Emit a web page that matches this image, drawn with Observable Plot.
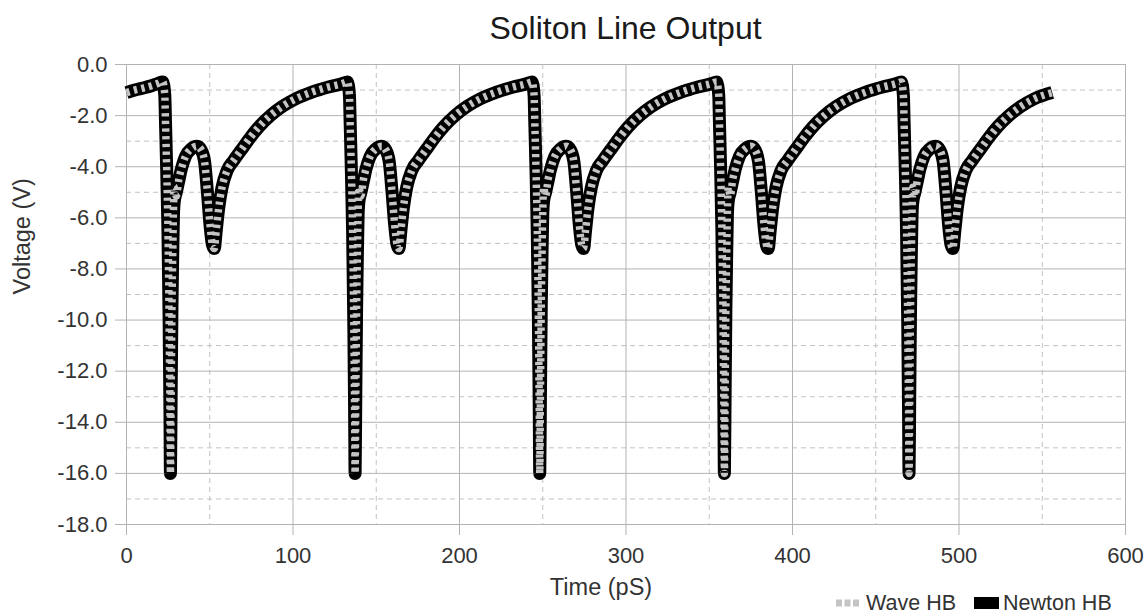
<!DOCTYPE html>
<html>
<head>
<meta charset="utf-8">
<script src="https://cdn.jsdelivr.net/npm/d3@7"></script>
<script src="https://cdn.jsdelivr.net/npm/@observablehq/plot@0.6"></script>
<style>
  html, body { margin: 0; padding: 0; background: #fff; }
  #chart { position: relative; width: 1148px; height: 613px; font-family: "Liberation Sans", Arial, sans-serif; color: #333; }
  #title { position: absolute; left: 126px; top: 12px; width: 999px; text-align: center; font-size: 32px; line-height: 32px; color: #1a1a1a; }
  #legend { position: absolute; left: 836px; top: 593px; height: 20px; display: flex; align-items: center; font-size: 21.5px; line-height: 20px; color: #333; }
  #legend .item { display: flex; align-items: center; }
  #legend svg { display: block; }
</style>
</head>
<body>
<div id="chart">
  <div id="title">Soliton Line Output</div>
  <div id="legend">
    <div class="item"><svg width="25" height="12"><line x1="0" y1="6" x2="25" y2="6" stroke="#c4c4c4" stroke-width="7" stroke-dasharray="6,2.5"></line></svg><span style="margin-left:5px">Wave HB</span></div>
    <div class="item" style="margin-left:18px"><svg width="25" height="12"><rect x="0" y="0" width="25" height="12" fill="#000"></rect></svg><span style="margin-left:4px">Newton HB</span></div>
  </div>
</div>
<script>
// Time axis (pS), shared by both series; one row per cycle
const timePs = [
  0, 5, 10, 15, 19,
  21.8, 23.0, 23.4, 24.1, 24.9, 25.6, 26.1, 26.4, 26.8, 27.3, 27.8, 28.2, 28.7, 29.9, 31.4, 32.9, 35.4, 38.9, 42.4, 44.9, 46.9, 48.6, 50.2, 51.6, 52.7, 53.9, 55.4, 57.4, 60.4, 64.4, 69.4, 74.4, 79.4, 86.4, 93.4, 101.4, 111.4, 121.4, 129.4,
  132.7, 133.9, 134.3, 135.0, 135.8, 136.5, 137.0, 137.3, 137.7, 138.2, 138.7, 139.1, 139.6, 140.8, 142.3, 143.8, 146.3, 149.8, 153.3, 155.8, 157.8, 159.5, 161.1, 162.5, 163.6, 164.8, 166.3, 168.3, 171.3, 175.3, 180.3, 185.3, 190.3, 197.3, 204.3, 212.3, 222.3, 232.3, 240.3,
  243.6, 244.8, 245.2, 245.9, 246.7, 247.4, 247.9, 248.2, 248.6, 249.1, 249.6, 250.0, 250.5, 251.7, 253.2, 254.7, 257.2, 260.7, 264.2, 266.7, 268.7, 270.4, 272.0, 273.4, 274.5, 275.7, 277.2, 279.2, 282.2, 286.2, 291.2, 296.2, 301.2, 308.2, 315.2, 323.2, 333.2, 343.2, 351.2,
  354.5, 355.7, 356.1, 356.8, 357.6, 358.3, 358.8, 359.1, 359.5, 360.0, 360.5, 360.9, 361.4, 362.6, 364.1, 365.6, 368.1, 371.6, 375.1, 377.6, 379.6, 381.3, 382.9, 384.3, 385.4, 386.6, 388.1, 390.1, 393.1, 397.1, 402.1, 407.1, 412.1, 419.1, 426.1, 434.1, 444.1, 454.1, 462.1,
  465.4, 466.6, 467.0, 467.7, 468.5, 469.2, 469.7, 470.0, 470.4, 470.9, 471.4, 471.8, 472.3, 473.5, 475.0, 476.5, 479.0, 482.5, 486.0, 488.5, 490.5, 492.2, 493.8, 495.2, 496.3, 497.5, 499.0, 501.0, 504.0, 508.0, 513.0, 518.0, 523.0, 530.0, 537.0, 545.0, 556.0
];

// Newton HB voltage (V)
const newtonV = [
  -1.1, -1.0, -0.92, -0.83, -0.74,
  -0.68, -1.2, -2.2, -4.0, -6.5, -10, -13.5, -16, -13, -9.5, -7.3, -5.9, -5.35, -5.0, -4.55, -4.1, -3.6, -3.3, -3.2, -3.35, -3.8, -5.0, -6.3, -7.05, -7.2, -6.5, -5.6, -4.8, -4.15, -3.75, -3.3, -2.85, -2.45, -2.0, -1.65, -1.35, -1.08, -0.88, -0.75,
  -0.68, -1.2, -2.2, -4.0, -6.5, -10, -13.5, -16, -13, -9.5, -7.3, -5.9, -5.35, -5.0, -4.55, -4.1, -3.6, -3.3, -3.2, -3.35, -3.8, -5.0, -6.3, -7.05, -7.2, -6.5, -5.6, -4.8, -4.15, -3.75, -3.3, -2.85, -2.45, -2.0, -1.65, -1.35, -1.08, -0.88, -0.75,
  -0.68, -1.2, -2.2, -4.0, -6.5, -10, -13.5, -16, -13, -9.5, -7.3, -5.9, -5.35, -5.0, -4.55, -4.1, -3.6, -3.3, -3.2, -3.35, -3.8, -5.0, -6.3, -7.05, -7.2, -6.5, -5.6, -4.8, -4.15, -3.75, -3.3, -2.85, -2.45, -2.0, -1.65, -1.35, -1.08, -0.88, -0.75,
  -0.68, -1.2, -2.2, -4.0, -6.5, -10, -13.5, -16, -13, -9.5, -7.3, -5.9, -5.35, -5.0, -4.55, -4.1, -3.6, -3.3, -3.2, -3.35, -3.8, -5.0, -6.3, -7.05, -7.2, -6.5, -5.6, -4.8, -4.15, -3.75, -3.3, -2.85, -2.45, -2.0, -1.65, -1.35, -1.08, -0.88, -0.75,
  -0.68, -1.2, -2.2, -4.0, -6.5, -10, -13.5, -16, -13, -9.5, -7.3, -5.9, -5.35, -5.0, -4.55, -4.1, -3.6, -3.3, -3.2, -3.35, -3.8, -5.0, -6.3, -7.05, -7.2, -6.5, -5.6, -4.8, -4.15, -3.75, -3.3, -2.85, -2.45, -2.0, -1.65, -1.35, -1.1
];

// Wave HB voltage (V): same trace, small wobble just after each spike
const waveV = [
  -1.1, -1.0, -0.92, -0.83, -0.74,
  -0.68, -1.2, -2.2, -4.0, -6.5, -10, -13.5, -16, -13, -9.5, -7.3, -5.8, -4.8, -5.15, -4.5, -4.1, -3.6, -3.3, -3.2, -3.35, -3.8, -5.0, -6.3, -7.05, -7.2, -6.5, -5.6, -4.8, -4.15, -3.75, -3.3, -2.85, -2.45, -2.0, -1.65, -1.35, -1.08, -0.88, -0.75,
  -0.68, -1.2, -2.2, -4.0, -6.5, -10, -13.5, -16, -13, -9.5, -7.3, -5.8, -4.8, -5.15, -4.5, -4.1, -3.6, -3.3, -3.2, -3.35, -3.8, -5.0, -6.3, -7.05, -7.2, -6.5, -5.6, -4.8, -4.15, -3.75, -3.3, -2.85, -2.45, -2.0, -1.65, -1.35, -1.08, -0.88, -0.75,
  -0.68, -1.2, -2.2, -4.0, -6.5, -10, -13.5, -16, -13, -9.5, -7.3, -5.8, -4.8, -5.15, -4.5, -4.1, -3.6, -3.3, -3.2, -3.35, -3.8, -5.0, -6.3, -7.05, -7.2, -6.5, -5.6, -4.8, -4.15, -3.75, -3.3, -2.85, -2.45, -2.0, -1.65, -1.35, -1.08, -0.88, -0.75,
  -0.68, -1.2, -2.2, -4.0, -6.5, -10, -13.5, -16, -13, -9.5, -7.3, -5.8, -4.8, -5.15, -4.5, -4.1, -3.6, -3.3, -3.2, -3.35, -3.8, -5.0, -6.3, -7.05, -7.2, -6.5, -5.6, -4.8, -4.15, -3.75, -3.3, -2.85, -2.45, -2.0, -1.65, -1.35, -1.08, -0.88, -0.75,
  -0.68, -1.2, -2.2, -4.0, -6.5, -10, -13.5, -16, -13, -9.5, -7.3, -5.8, -4.8, -5.15, -4.5, -4.1, -3.6, -3.3, -3.2, -3.35, -3.8, -5.0, -6.3, -7.05, -7.2, -6.5, -5.6, -4.8, -4.15, -3.75, -3.3, -2.85, -2.45, -2.0, -1.65, -1.35, -1.1
];

// Axis ticks and grid
const majorVoltTicks = [0, -2, -4, -6, -8, -10, -12, -14, -16, -18];
const minorVoltTicks = [-1, -3, -5, -7, -9, -11, -13, -15, -17];
const majorTimeTicks = [0, 100, 200, 300, 400, 500, 600];
const minorTimeTicks = [50, 150, 250, 350, 450, 550];

const series = timePs.map((t, i) => ({t, newton: newtonV[i], wave: waveV[i]}));

const chart = Plot.plot({
  width: 1148,
  height: 613,
  marginTop: 64,
  marginRight: 23,
  marginBottom: 89,
  marginLeft: 126,
  style: {fontFamily: "'Liberation Sans', Arial, sans-serif", background: "transparent", overflow: "visible"},
  x: {domain: [0, 600], label: null},
  y: {domain: [-18, 0], label: null},
  marks: [
    Plot.ruleY(minorVoltTicks, {stroke: "#c2c2c2", strokeDasharray: "5,4"}),
    Plot.ruleX(minorTimeTicks, {stroke: "#c2c2c2", strokeDasharray: "5,4"}),
    Plot.ruleY(majorVoltTicks, {stroke: "#b3b3b3"}),
    Plot.ruleX(majorTimeTicks, {stroke: "#b3b3b3"}),
    Plot.axisY({ticks: majorVoltTicks, tickSize: 11, tickPadding: 8, tickFormat: d => d.toFixed(1), fontSize: 22, stroke: "#b3b3b3", fill: "#333", label: null}),
    Plot.axisX({ticks: majorTimeTicks, tickSize: 11, tickPadding: 12, tickFormat: d => String(d), fontSize: 22, stroke: "#b3b3b3", fill: "#333", label: null}),
    Plot.line(series, {x: "t", y: "newton", stroke: "#000", strokeWidth: 13, curve: "monotone-x", strokeLinejoin: "round", strokeLinecap: "butt"}),
    Plot.line(series, {x: "t", y: "wave", stroke: "#c4c4c4", strokeWidth: 7.5, strokeDasharray: "3.3,4.4", strokeLinecap: "butt", strokeLinejoin: "miter", curve: "monotone-x"}),
    Plot.text(["Time (pS)"], {frameAnchor: "bottom", dx: -25, dy: 70, fontSize: 23.5, fill: "#333"}),
    Plot.text(["Voltage (V)"], {frameAnchor: "left", dx: -104, rotate: -90, fontSize: 23.5, fill: "#333"})
  ]
});
chart.style.position = "absolute";
chart.style.left = "0";
chart.style.top = "0";
document.getElementById("chart").prepend(chart);
</script>
</body>
</html>
